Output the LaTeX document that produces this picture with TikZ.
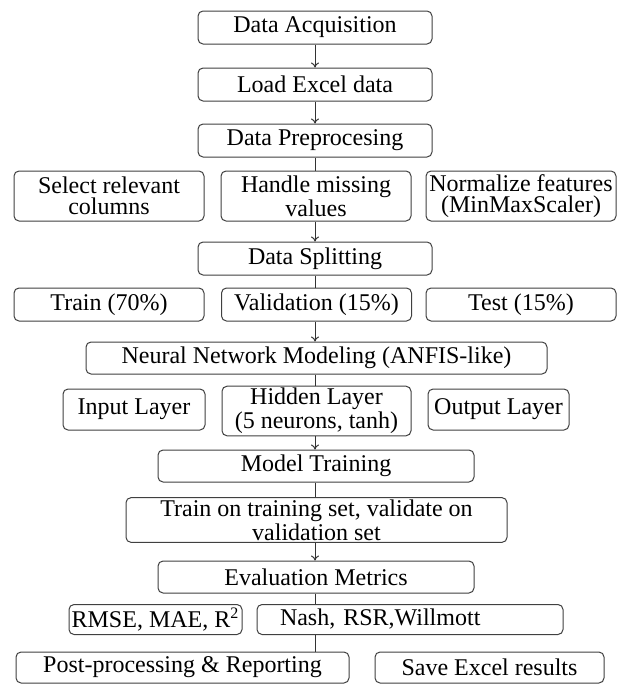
\documentclass[tikz,border=0pt]{standalone}
\usepackage{fontspec}
\setmainfont{Liberation Serif}
\usepackage{xcolor}
\usepackage{tikz}
\usetikzlibrary{arrows.meta}

\begin{document}
\begin{tikzpicture}[
    x=0.5pt, y=-0.5pt,
    block/.style={
        rectangle, draw=black!75, line width=0.5pt, fill=white,
        rounded corners=2.5pt, inner sep=1pt, align=center,
        font=\fontsize{12}{10.5}\selectfont
    },
    main/.style={block, minimum width=117pt, minimum height=16.5pt},
    side/.style={block, minimum width=95pt, minimum height=16.5pt},
    line/.style={draw=black!80, line width=0.5pt, -{To[length=2.5pt, width=4pt]}},
    link/.style={draw=black!80, line width=0.5pt}
]
    \useasboundingbox (0,0) rectangle (619,685);

    % main column
    \node [main] (acq)   at (315,27.5)  {Data Acquisition};
    \node [main] (load)  at (315,84.5)  {Load Excel data};
    \node [main] (prep)  at (315,140.5) {Data Preprocesing};

    % preprocessing steps
    \node [side, minimum height=25pt] (select) at (109,196)   {Select relevant\\columns};
    \node [side, minimum height=25pt] (handle) at (316,196)   {Handle missing\\values};
    \node [side, minimum height=25pt] (norm)   at (521,196)   {Normalize features\\(MinMaxScaler)};

    \node [main] (split) at (315,258.5) {Data Splitting};

    % split sets
    \node [side] (train) at (109,304.5)   {Train (70\%)};
    \node [side] (valid) at (316.5,304.5) {Validation (15\%)};
    \node [side] (test)  at (521,304.5)   {Test (15\%)};

    \node [block, minimum width=230.5pt, minimum height=16pt] (model) at (316.5,358)
        {Neural Network Modeling (ANFIS-like)};

    % network layers
    \node [block, minimum width=71pt, minimum height=20.5pt] (inlayer)  at (134,409.5)   {Input Layer};
    \node [block, minimum width=94.5pt, minimum height=22pt] (hidden)   at (316.5,411)   {Hidden Layer\\(5 neurons, tanh)};
    \node [block, minimum width=70.5pt, minimum height=20.5pt] (outlayer) at (498.5,409.5) {Output Layer};

    \node [block, minimum width=158pt, minimum height=16pt] (training) at (316,466) {Model Training};
    \node [block, minimum width=190.5pt, minimum height=22pt] (fit) at (316.5,520)
        {Train on training set, validate on\\validation set};
    \node [block, minimum width=158pt, minimum height=16pt] (metrics) at (316,577) {Evaluation Metrics};

    % metric groups
    \node [block, minimum width=86.5pt, minimum height=15pt] (errors) at (155.5,619.5)
        {RMSE, MAE, R\textsuperscript{2}};
    \node [block, text width=130pt, align=left, inner xsep=11.5pt, minimum height=15pt] (indices) at (410,619.5)
        {Nash, RSR,Willmott};

    % outputs
    \node [block, minimum width=166.5pt, minimum height=15.5pt] (report) at (182.5,667.5)
        {Post-processing \& Reporting};
    \node [block, minimum width=114.5pt, minimum height=15.5pt] (save) at (489.5,667.5)
        {Save Excel results};

    % connectors
    \path [line] (acq) -- (load);
    \path [line] (load) -- (prep);
    \path [link] (prep.south) -- (prep.south |- handle.north);
    \path [line] (prep.south |- handle.south) -- (split.north);
    \path [link] (split.south) -- (split.south |- valid.north);
    \path [line] (split.south |- valid.south) -- (split.south |- model.north);
    \path [link] (split.south |- model.south) -- (split.south |- hidden.north);
    \path [line] (split.south |- hidden.south) -- (split.south |- training.north);
    \path [link] (split.south |- training.south) -- (split.south |- fit.north);
    \path [line] (split.south |- fit.south) -- (split.south |- metrics.north);
    \path [link] (split.south |- metrics.south) -- (split.south |- indices.north);
    \path [link] (split.south |- indices.south) -- (split.south |- report.north);
\end{tikzpicture}
\end{document}
